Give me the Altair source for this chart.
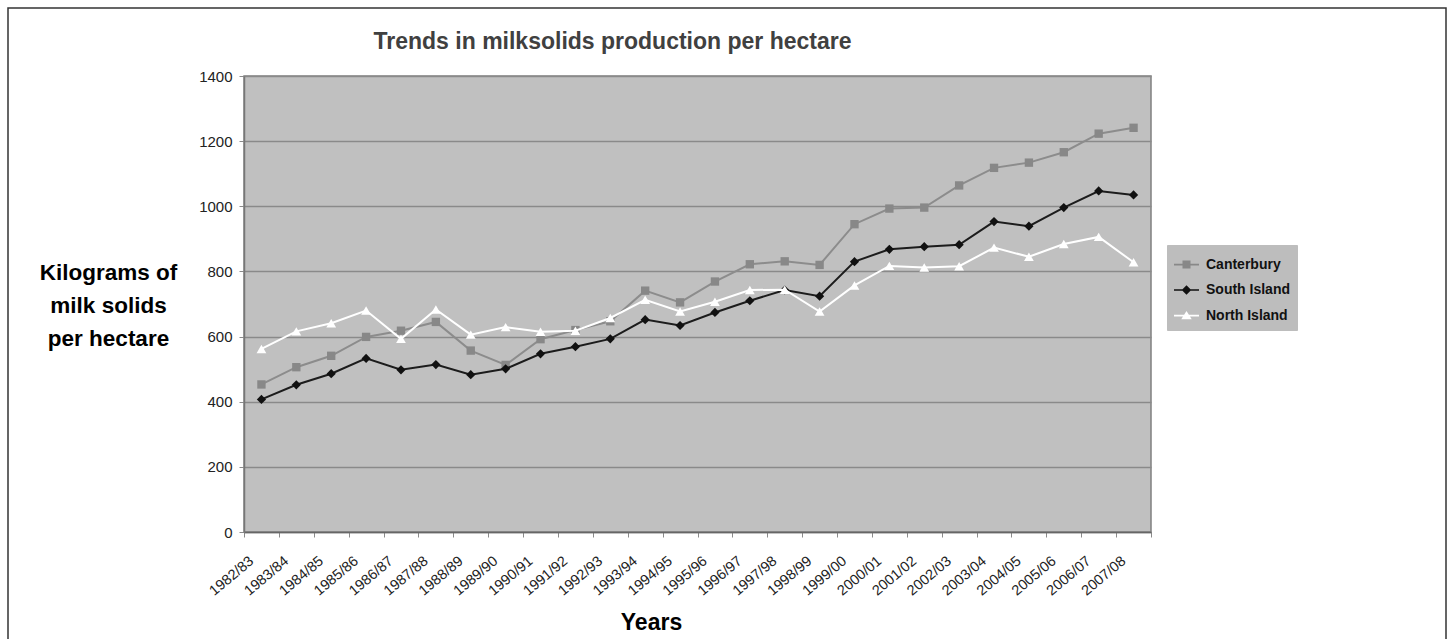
import altair as alt
import pandas as pd

# Seasons on the category axis
years = [
    "1982/83", "1983/84", "1984/85", "1985/86", "1986/87", "1987/88", "1988/89",
    "1989/90", "1990/91", "1991/92", "1992/93", "1993/94", "1994/95", "1995/96",
    "1996/97", "1997/98", "1998/99", "1999/00", "2000/01", "2001/02", "2002/03",
    "2003/04", "2004/05", "2005/06", "2006/07", "2007/08",
]

# Kilograms of milk solids per hectare
canterbury = [453, 506, 541, 599, 618, 645, 557, 513, 592, 620, 647, 741, 705,
              769, 822, 831, 820, 945, 993, 996, 1064, 1118, 1134, 1166, 1223, 1241]
south_island = [407, 452, 486, 533, 498, 514, 483, 501, 547, 569, 593, 652, 634,
                674, 710, 743, 724, 830, 868, 876, 882, 953, 939, 996, 1047, 1035]
north_island = [562, 616, 641, 680, 593, 683, 606, 629, 615, 618, 657, 713, 677,
                707, 743, 744, 677, 757, 817, 812, 816, 873, 845, 884, 906, 828]

series_names = ["Canterbury", "South Island", "North Island"]
series_values = [canterbury, south_island, north_island]
line_colors = ["#8c8c8c", "#1c1c1c", "#ffffff"]
marker_colors = ["#888888", "#111111", "#ffffff"]
marker_shapes = ["square", "diamond", "triangle-up"]
marker_sizes = [70, 85, 95]

# Legend glyphs: a short line with the series marker on top
legend_glyphs = [
    "M-1,-0.07H1V0.07H-1Z M-0.32,-0.32H0.32V0.32H-0.32Z",
    "M-1,-0.06H1V0.06H-1Z M0,-0.38L0.38,0L0,0.38L-0.38,0Z",
    "M-1,-0.07H1V0.07H-1Z M0,-0.36L0.42,0.3H-0.42Z",
]

rows = []
for name, vals in zip(series_names, series_values):
    for yr, v in zip(years, vals):
        rows.append({"season": yr, "series": name, "kg": v})
df = pd.DataFrame(rows)

FONT = "Liberation Sans"

x_enc = alt.X(
    "season:N",
    sort=years,
    scale=alt.Scale(paddingInner=0, paddingOuter=0),
    axis=alt.Axis(
        title="Years",
        titleFontSize=23,
        titleFont=FONT,
        titleFontWeight="bold",
        titleColor="#000000",
        titleX=407,
        titleY=90,
        titleBaseline="middle",
        labelAngle=-40,
        labelAlign="right",
        labelBaseline="middle",
        labelFontSize=14.5,
        labelFont=FONT,
        labelColor="#222222",
        labelOffset=-10,
        labelPadding=22,
        tickBand="extent",
        tickSize=5,
        tickColor="#8a8a8a",
        domainColor="#666666",
        domainWidth=1.5,
        grid=False,
    ),
)

y_enc = alt.Y(
    "kg:Q",
    scale=alt.Scale(domain=[0, 1400], nice=False),
    axis=alt.Axis(
        values=list(range(0, 1401, 200)),
        format="d",
        title=["Kilograms of", "milk solids", "per hectare"],
        titleAngle=0,
        titleAlign="center",
        titleBaseline="middle",
        titleX=-136,
        titleY=196,
        titleFontSize=22.5,
        titleFont=FONT,
        titleFontWeight="bold",
        titleColor="#000000",
        titleLineHeight=33,
        labelFontSize=15,
        labelFont=FONT,
        labelColor="#222222",
        labelPadding=7,
        tickSize=5,
        tickColor="#8a8a8a",
        domainColor="#777777",
        domainWidth=1.5,
        grid=True,
        gridColor="#8a8a8a",
        gridWidth=1.5,
    ),
)

base = alt.Chart(df)

layers = []

# Frame around the whole figure
frame = alt.Chart(pd.DataFrame({"k": [0]})).mark_rect(
    fillOpacity=0, stroke="#333333", strokeWidth=1.5
).encode(
    x=alt.value(-236), x2=alt.value(1202), y=alt.value(-68), y2=alt.value(575)
)
layers.append(frame)

for name, lc, mc, shp, sz in zip(series_names, line_colors, marker_colors,
                                 marker_shapes, marker_sizes):
    sub = base.transform_filter(alt.datum.series == name)
    layers.append(
        sub.mark_line(color=lc, strokeWidth=2).encode(x=x_enc, y=y_enc)
    )
    layers.append(
        sub.mark_point(filled=True, shape=shp, size=sz, color=mc, opacity=1)
        .encode(x=x_enc, y=y_enc)
    )

legend_props = dict(
    title=None,
    orient="none",
    legendX=923,
    legendY=169,
    direction="vertical",
    fillColor="#bdbdbd",
    strokeColor="#bdbdbd",
    padding=7,
    symbolSize=625,
    symbolOpacity=1,
    symbolStrokeWidth=0,
    labelFont=FONT,
    labelFontSize=14,
    labelFontWeight="bold",
    labelColor="#111111",
    labelOffset=7,
    rowPadding=5.5,
)

legend_layer = base.mark_point(filled=True, opacity=0).encode(
    x=x_enc,
    y=y_enc,
    color=alt.Color(
        "series:N",
        sort=series_names,
        scale=alt.Scale(domain=series_names, range=marker_colors),
        legend=alt.Legend(**legend_props),
    ),
    shape=alt.Shape(
        "series:N",
        sort=series_names,
        scale=alt.Scale(domain=series_names, range=legend_glyphs),
        legend=alt.Legend(**legend_props),
    ),
)
layers.append(legend_layer)

chart = alt.layer(*layers).properties(
    width=907,
    height=456,
    title=alt.TitleParams(
        text="Trends in milksolids production per hectare",
        font=FONT,
        fontSize=23,
        fontWeight="bold",
        color="#404040",
        anchor="middle",
        dx=-85,
        dy=69,
        offset=22,
    ),
    autosize=alt.AutoSizeParams(type="none"),
    padding={"left": 244, "top": 76, "right": 300, "bottom": 107},
).configure(
    background="#ffffff"
).configure_view(
    fill="#c0c0c0", stroke="#808080", strokeWidth=1.5
)

chart.save("out.html", embed_options={"renderer": "svg", "actions": False})
